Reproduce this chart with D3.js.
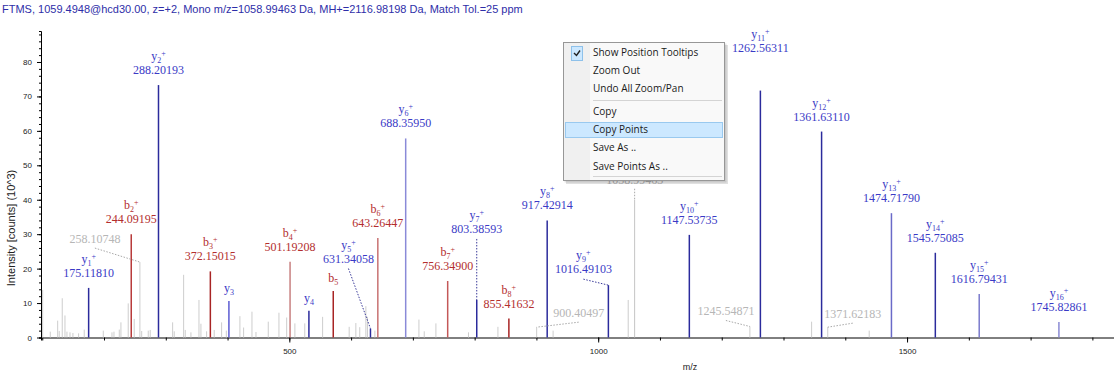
<!DOCTYPE html>
<html>
<head>
<meta charset="utf-8">
<script src="https://cdn.jsdelivr.net/npm/d3@7"></script>
<style>
  body { margin: 0; background: #fff; }
  svg { display: block; }
</style>
</head>
<body>
<div id="chart"></div>
<script>
// spectrum title
const title = "FTMS, 1059.4948@hcd30.00, z=+2, Mono m/z=1058.99463 Da, MH+=2116.98198 Da, Match Tol.=25 ppm";

// matched y ions
const yNames = ["1", "2", "3", "4", "5", "6", "7", "8", "9", "10", "11", "12", "13", "14", "15", "16"];
const yMz = [175.11810, 288.20193, 402.2, 531.7, 631.34058, 688.35950, 803.38593, 917.42914, 1016.49103,
  1147.53735, 1262.56311, 1361.63110, 1474.71790, 1545.75085, 1616.79431, 1745.82861];
const yInt = [14.4, 73.3, 10.6, 7.8, 2.6, 57.8, 10.9, 34.0, 15.2, 29.8, 71.7, 59.8, 36.1, 24.6, 12.6, 4.5];
const yShowMz = [1, 1, 0, 0, 1, 1, 1, 1, 1, 1, 1, 1, 1, 1, 1, 1];

// matched b ions
const bNames = ["2", "3", "4", "5", "6", "7", "8"];
const bMz = [244.09195, 372.15015, 501.19208, 571.1, 643.26447, 756.34900, 855.41632];
const bInt = [30.0, 19.2, 22.0, 13.5, 28.9, 16.4, 5.5];
const bShowMz = [1, 1, 1, 0, 1, 1, 1];

// unmatched peaks
const grayMz = [100.7, 113, 125, 127.5, 132.4, 136.8, 140, 144.9, 149.7, 158.9, 168, 198.8, 212.9, 216.1,
  224.7, 227.4, 239.2, 248.9, 258.10748, 261, 271.6, 274.8, 311.1, 313.7, 328.9, 331.5, 340.7, 353.7,
  356.9, 366.1, 378.4, 390.4, 398, 420, 426, 439.5, 446, 465.9, 483.2, 495.7, 509, 525, 553.9, 596.9,
  607.7, 614, 623.9, 626.5, 638.5, 709.8, 718.4, 737.3, 790, 837.7, 900.40497, 927, 1048.6, 1058.99463,
  1245.54871, 1345.5, 1371.62183, 1438.7];
const grayInt = [13.8, 1.7, 4.9, 1.9, 11.4, 6.4, 1.7, 1.5, 1.3, 1.2, 2.3, 2.0, 1.5, 1.7,
  2.3, 4.4, 9.9, 5.4, 21.9, 1.9, 2.0, 2.2, 4.4, 1.8, 18.2, 2.2, 1.5, 10.9,
  4.0, 1.8, 2.2, 4.4, 2.0, 6.2, 2.9, 7.5, 1.6, 4.6, 7.2, 5.8, 4.1, 4.1, 6.0, 3.1,
  4.2, 3.0, 9.1, 6.0, 2.0, 5.2, 1.8, 4.1, 1.5, 3.1, 3.0, 2.0, 10.9, 40,
  3.2, 4.6, 3.0, 2.0];
const grayLabelled = [258.10748, 900.40497, 1058.99463, 1245.54871, 1371.62183];

// context menu entries
const menuItems = ["Show Position Tooltips", "Zoom Out", "Undo All Zoom/Pan", "Copy", "Copy Points", "Save As ..", "Save Points As .."];

const xTicks = d3.range(100, 1900, 100);
const yTicks = d3.range(0, 90, 10);

const width = 1114, height = 376;

const svg = d3.select("#chart").append("svg")
  .attr("width", width)
  .attr("height", height);

const x = d3.scaleLinear().domain([98, 1835]).range([41, 1114]);
const y = d3.scaleLinear().domain([0, 89]).range([337.5, 31]);

svg.append("text")
  .attr("x", 2).attr("y", 13)
  .attr("font-family", "Liberation Sans, Arial, sans-serif")
  .attr("font-size", 11)
  .attr("fill", "#2e2ea8")
  .text(title);

// axes
const xMinor = svg.append("g")
  .attr("transform", "translate(0,337.5)")
  .call(d3.axisBottom(x).tickValues(xTicks).tickSize(3).tickFormat(""));
const xMajor = svg.append("g")
  .attr("transform", "translate(0,337.5)")
  .call(d3.axisBottom(x).tickValues(xTicks.filter(d => d % 500 === 0))
    .tickFormat(d3.format("d")).tickSize(5).tickPadding(6));
xMajor.select(".domain").remove();

const yMinor = svg.append("g")
  .attr("transform", "translate(41,0)")
  .call(d3.axisLeft(y).tickValues(d3.range(0, 90, 2)).tickSize(2).tickFormat(""));
const yMajor = svg.append("g")
  .attr("transform", "translate(41,0)")
  .call(d3.axisLeft(y).tickValues(yTicks).tickSize(4).tickPadding(5));
yMajor.select(".domain").remove();

svg.selectAll(".tick text")
  .attr("font-family", "Liberation Sans, Arial, sans-serif")
  .attr("font-size", 8)
  .attr("fill", "#222");
svg.selectAll(".domain, .tick line").attr("stroke", "#000");

svg.append("text")
  .attr("x", 690).attr("y", 370)
  .attr("text-anchor", "middle")
  .attr("font-family", "Liberation Sans, Arial, sans-serif")
  .attr("font-size", 9)
  .attr("fill", "#222")
  .text("m/z");

svg.append("text")
  .attr("transform", "translate(15,228) rotate(-90)")
  .attr("text-anchor", "middle")
  .attr("font-family", "Liberation Sans, Arial, sans-serif")
  .attr("font-size", 11)
  .attr("fill", "#222")
  .text("Intensity [counts] (10^3)");

// peaks
const gray = grayMz.map((m, i) => ({ mz: m, v: grayInt[i] }));
const yIons = yMz.map((m, i) => ({ kind: "y", n: yNames[i], mz: m, v: yInt[i], showMz: yShowMz[i] }));
const bIons = bMz.map((m, i) => ({ kind: "b", n: bNames[i], mz: m, v: bInt[i], showMz: bShowMz[i] }));

// lighter stroke shades seen on some matched peaks
const lightIons = { y6: "#8a8ad8", y13: "#6a6ac8", y15: "#7a7acc", y16: "#8a8ad4", y3: "#5c5cd2",
  b4: "#c88080", b6: "#c87272", b7: "#c45858", b2: "#b83a3a" };

svg.append("g").selectAll("line")
  .data(gray)
  .join("line")
  .attr("x1", d => x(d.mz)).attr("x2", d => x(d.mz))
  .attr("y1", y(0)).attr("y2", d => y(d.v))
  .attr("stroke", d => d.mz > 1058 && d.mz < 1060 ? "#c4c4c4" : "#cdcdcd")
  .attr("stroke-width", 1);

const ions = yIons.concat(bIons);
svg.append("g").selectAll("line")
  .data(ions)
  .join("line")
  .attr("x1", d => x(d.mz)).attr("x2", d => x(d.mz))
  .attr("y1", y(0)).attr("y2", d => y(d.v))
  .attr("stroke", d => lightIons[d.kind + d.n] || (d.kind === "y" ? "#2b2b9c" : "#a82424"))
  .attr("stroke-width", 1.5);

// label placement: shift of the label from its default spot above the peak
const labelShift = {
  y5: [-22, -55], y7: [0, -56], y9: [-25, -1], y11: [0, -28],
  "258.10748": [-45, -8], "900.40497": [42, 1], "1058.99463": [0, -5],
  "1245.54871": [-24, 0], "1371.62183": [25, 2]
};
const linked = ["y5", "y7", "y9", "258.10748", "900.40497", "1058.99463", "1245.54871", "1371.62183"];

const labels = svg.append("g")
  .attr("font-family", "Liberation Serif, Times New Roman, serif")
  .attr("font-size", 12);

function place(key, d) {
  const s = labelShift[key] || [0, 0];
  return { lx: x(d.mz) + s[0], ly: y(d.v) - 15 + s[1] };
}

ions.forEach(d => {
  const key = d.kind + d.n;
  const col = d.kind === "y" ? "#3a3ac6" : "#b32e2e";
  let { lx, ly } = place(key, d);
  if (!d.showMz) ly = y(d.v) - 13;
  const nameY = d.showMz ? ly - 10 : ly + 4;
  const t = labels.append("text")
    .attr("x", lx).attr("y", nameY)
    .attr("text-anchor", "middle")
    .attr("fill", col);
  t.append("tspan").text(d.kind);
  t.append("tspan").attr("dy", 3).attr("font-size", 8).text(d.n);
  if (d.showMz) t.append("tspan").attr("dy", -7).attr("font-size", 8).text("+");
  if (d.showMz) {
    labels.append("text")
      .attr("x", lx).attr("y", ly + 4)
      .attr("text-anchor", "middle")
      .attr("fill", col)
      .text(d3.format(".5f")(d.mz));
  }
  if (linked.includes(key)) {
    labels.append("line")
      .attr("x1", lx).attr("y1", ly + 10)
      .attr("x2", x(d.mz)).attr("y2", y(d.v))
      .attr("stroke", d.kind === "y" ? "#3a3a9a" : "#a03030")
      .attr("stroke-dasharray", "1.5,1.5");
  }
});

gray.filter(d => grayLabelled.includes(d.mz)).forEach(d => {
  const key = d3.format(".5f")(d.mz);
  const { lx, ly } = place(key, d);
  labels.append("text")
    .attr("x", lx).attr("y", ly + 4)
    .attr("text-anchor", "middle")
    .attr("fill", "#b6b6b6")
    .text(key);
  labels.append("line")
    .attr("x1", lx).attr("y1", ly + 9)
    .attr("x2", x(d.mz)).attr("y2", y(d.v))
    .attr("stroke", "#a8a8a8")
    .attr("stroke-dasharray", "1.5,1.5");
});

// context menu overlay
const menu = svg.append("g").attr("transform", "translate(563,42)")
  .attr("font-family", "Open Sans, Noto Sans, sans-serif")
  .attr("font-size", 10);
menu.append("rect").attr("x", 3).attr("y", 3).attr("width", 162).attr("height", 139)
  .attr("fill", "#000").attr("opacity", 0.12);
menu.append("rect").attr("x", 1.5).attr("y", 1.5).attr("width", 162).attr("height", 139)
  .attr("fill", "#000").attr("opacity", 0.1);
menu.append("rect").attr("x", 0.5).attr("y", 0.5).attr("width", 161).attr("height", 138)
  .attr("fill", "#f9f9f9").attr("stroke", "#979797");
menu.append("rect").attr("x", 1).attr("y", 1).attr("width", 26).attr("height", 137)
  .attr("fill", "#f0f0f0");
menu.append("rect").attr("x", 8.5).attr("y", 4.5).attr("width", 11).attr("height", 14)
  .attr("fill", "#cce8ff").attr("stroke", "#8ec1ea");
menu.append("path").attr("d", "M11,11 L13.5,13.5 L17,8.5")
  .attr("fill", "none").attr("stroke", "#222").attr("stroke-width", 1.4);
menu.append("rect").attr("x", 2.5).attr("y", 80.5).attr("width", 157).attr("height", 15)
  .attr("fill", "#cce8ff").attr("stroke", "#99c9ef");
[58, 134].forEach(yy => menu.append("line")
  .attr("x1", 30).attr("x2", 159).attr("y1", yy + 0.5).attr("y2", yy + 0.5)
  .attr("stroke", "#d4d4d4"));
const itemY = [10, 28, 46, 69, 87, 105, 124];
menu.selectAll("text.item")
  .data(menuItems)
  .join("text")
  .attr("class", "item")
  .attr("x", 30)
  .attr("y", (d, i) => itemY[i] + 4)
  .attr("fill", "#1a1a1a")
  .text(d => d);
</script>
</body>
</html>
